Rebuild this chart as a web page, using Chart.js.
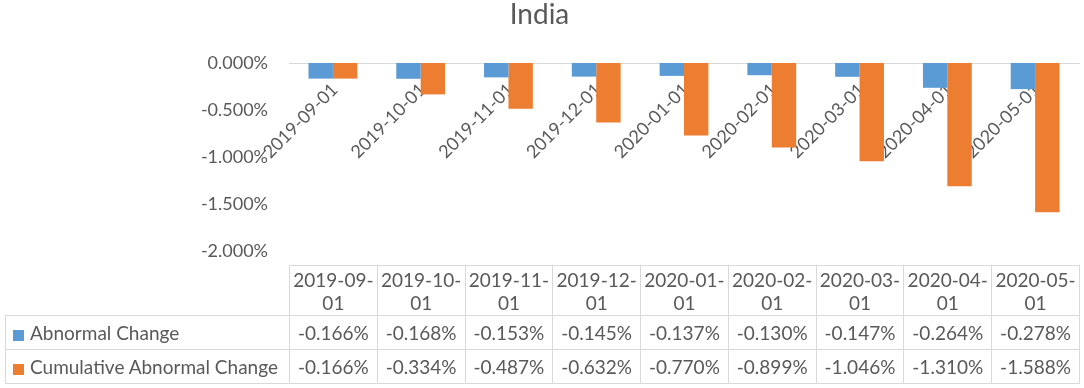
<!DOCTYPE html>
<html>
<head>
<meta charset="utf-8">
<script src="https://cdn.jsdelivr.net/npm/chart.js@4/dist/chart.umd.min.js"></script>
<style>
  html, body { margin: 0; padding: 0; background: #fff; }
  #wrap { position: relative; width: 1084px; height: 388px; overflow: hidden; }
  #c { position: absolute; left: 0; top: 0; }
  #tbl { position: absolute; border-collapse: collapse; font-family: Lato, "Noto Sans", sans-serif;
         font-size: 19px; color: #595959; table-layout: fixed; }
  #tbl td { border: 1px solid #d9d9d9; padding: 0; text-align: center; white-space: nowrap; overflow: hidden; }
  #tbl td.blank { border: none; border-bottom: 1px solid #d9d9d9; }
  #tbl td.hdr { line-height: 23px; }
  #tbl td.leg { text-align: left; padding-left: 7px; }
  .sw { display: inline-block; width: 11px; height: 11px; margin-right: 6px; vertical-align: -1px; }
</style>
</head>
<body>
<div id="wrap">
  <canvas id="c" width="1084" height="388"></canvas>
  <table id="tbl"></table>
</div>
<script>
const title = 'India';
const categories = ['2019-09-01','2019-10-01','2019-11-01','2019-12-01','2020-01-01','2020-02-01','2020-03-01','2020-04-01','2020-05-01'];
const seriesNames = ['Abnormal Change', 'Cumulative Abnormal Change'];
const abnormalChange = [-0.166, -0.168, -0.153, -0.145, -0.137, -0.130, -0.147, -0.264, -0.278];
const cumulativeAbnormalChange = [-0.166, -0.334, -0.487, -0.632, -0.770, -0.899, -1.046, -1.310, -1.588];
const yTicks = [0, -0.5, -1.0, -1.5, -2.0];
const colors = ['#5B9BD5', '#ED7D31'];
const textColor = '#595959';
const fontFamily = 'Lato, "Noto Sans", sans-serif';

const fmt = v => v.toFixed(3) + '%';

function buildTable(chart) {
  const ca = chart.chartArea;
  const tbl = document.getElementById('tbl');
  const left = 5;
  const colW = (ca.right - ca.left) / categories.length;
  tbl.style.left = left + 'px';
  tbl.style.top = '265px';
  tbl.style.width = (ca.right - left) + 'px';
  let html = '<colgroup><col style="width:' + (ca.left - left) + 'px">';
  categories.forEach(() => { html += '<col style="width:' + colW + 'px">'; });
  html += '</colgroup>';
  html += '<tr style="height:50px"><td class="blank"></td>';
  categories.forEach(c => {
    const i = c.lastIndexOf('-') + 1;
    html += '<td class="hdr">' + c.slice(0, i) + '<br>' + c.slice(i) + '</td>';
  });
  html += '</tr>';
  const rows = [abnormalChange, cumulativeAbnormalChange];
  rows.forEach((arr, r) => {
    html += '<tr style="height:34px"><td class="leg"><span class="sw" style="background:' + colors[r] + '"></span>' + seriesNames[r] + '</td>';
    arr.forEach(v => { html += '<td>' + fmt(v) + '</td>'; });
    html += '</tr>';
  });
  tbl.innerHTML = html;
}

const tablePlugin = {
  id: 'dataTable',
  afterRender(chart) {
    if (!chart._tblBuilt) { chart._tblBuilt = true; buildTable(chart); }
  }
};

new Chart(document.getElementById('c'), {
  type: 'bar',
  data: {
    labels: categories,
    datasets: [
      { label: seriesNames[0], data: abnormalChange, backgroundColor: colors[0], borderWidth: 0,
        categoryPercentage: 0.556, barPercentage: 1 },
      { label: seriesNames[1], data: cumulativeAbnormalChange, backgroundColor: colors[1], borderWidth: 0,
        categoryPercentage: 0.556, barPercentage: 1 }
    ]
  },
  options: {
    responsive: false,
    animation: false,
    layout: { padding: { left: 0, right: 5, top: 1, bottom: 137 } },
    plugins: {
      legend: { display: false },
      tooltip: { enabled: false },
      title: {
        display: true, text: title, color: textColor,
        font: { family: fontFamily, size: 28, weight: 'normal', lineHeight: 1 },
        padding: { top: 0, bottom: 34 }
      }
    },
    scales: {
      x: {
        type: 'category',
        position: { y: 0 },
        z: 1,
        grid: { display: false, drawTicks: false },
        border: { display: true, color: '#d9d9d9', width: 1 },
        ticks: {
          color: textColor, font: { family: fontFamily, size: 18 },
          minRotation: 45, maxRotation: 45, autoSkip: false,
          padding: 16, labelOffset: 2
        },
        afterFit(s) { s.paddingLeft = 0; s.paddingRight = 0; }
      },
      y: {
        min: -2, max: 0,
        afterBuildTicks(s) { s.ticks = yTicks.map(v => ({ value: v })); },
        afterFit(s) { s.width = 289; },
        grid: { display: false },
        border: { display: false },
        ticks: {
          color: textColor, font: { family: fontFamily, size: 18 },
          padding: 13,
          callback: v => fmt(v)
        }
      }
    }
  },
  plugins: [tablePlugin]
});
</script>
</body>
</html>
